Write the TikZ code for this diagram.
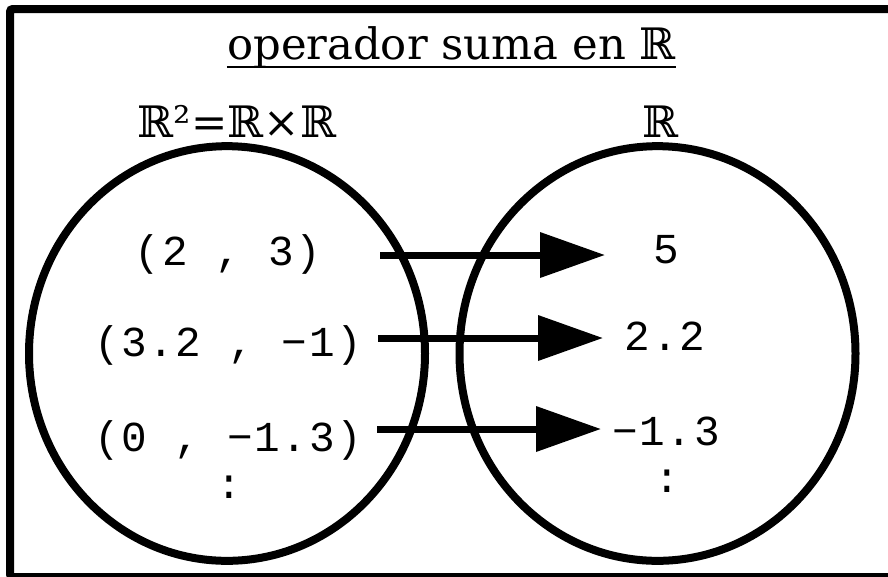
\documentclass[tikz,border=0pt]{standalone}
\usepackage{fontspec}
\usetikzlibrary{arrows.meta,shapes.geometric}
\newfontfamily\serifdv{DejaVu Serif}
\newfontfamily\monof[LetterSpace=4]{Liberation Mono}
\tikzset{
  setel/.style={ellipse, draw, line width=6pt, minimum width=297pt, minimum height=311pt, inner sep=0pt},
  headtxt/.style={font=\serifdv\fontsize{32.5pt}{36pt}\selectfont, inner sep=0pt, anchor=base},
  valtxt/.style={font=\monof\fontsize{32pt}{36pt}\selectfont, inner sep=0pt, anchor=base},
  maparrow/.style={line width=5.25pt, -{Triangle[length=48.75pt, width=33pt]}},
}
\begin{document}
\begin{tikzpicture}[x=0.75pt, y=-0.75pt]
\useasboundingbox (0,0) rectangle (888,576);
\draw[line width=6pt, rounded corners=2pt] (10,9) rectangle (894,577);
% sets
\node[setel] (A) at (227,353.5) {};
\node[setel] (B) at (657.5,353.5) {};
% headings
\node[headtxt] (title) at (451.5,59) {operador suma en ℝ};
\draw[line width=1.9pt] (title.base west) ++(0,8) coordinate (u1) -- (title.base east |- u1);
\node[headtxt] (dom) at (237,137) {ℝ²=ℝ×ℝ};
\node[headtxt] (cod) at (660,137) {ℝ};
% elements
\node[valtxt] (a1) at (228,265) {(2 , 3)};
\node[valtxt] (a2) at (228,356) {(3.2 , −1)};
\node[valtxt] (a3) at (228,451) {(0 , −1.3)};
\node[valtxt] (a4) at (229,498) {:};
\node[valtxt] (b1) at (666,263) {5};
\node[valtxt] (b2) at (665,350) {2.2};
\node[valtxt] (b3) at (666,445) {−1.3};
\node[valtxt] (b4) at (667,492) {:};
% arrows
\coordinate (s1) at (380,255); \coordinate (e1) at (605,255);
\coordinate (s2) at (378,338); \coordinate (e2) at (603,338);
\coordinate (s3) at (377,429); \coordinate (e3) at (601,429);
\draw[maparrow] (s1) -- (e1);
\draw[maparrow] (s2) -- (e2);
\draw[maparrow] (s3) -- (e3);
\end{tikzpicture}
\end{document}
